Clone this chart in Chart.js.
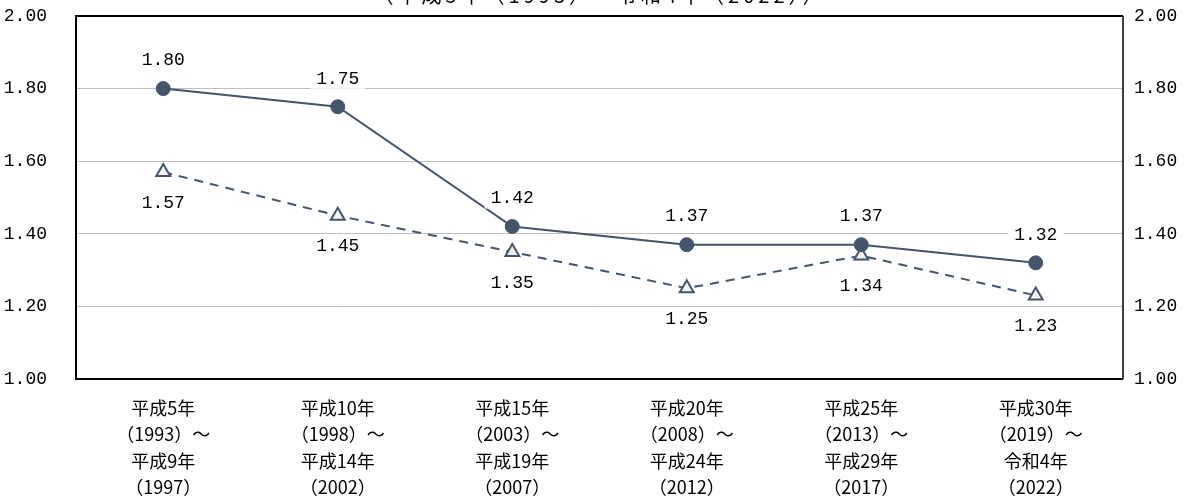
<!DOCTYPE html>
<html>
<head>
<meta charset="utf-8">
<style>
  html, body { margin: 0; padding: 0; background: #fff; }
  #wrap { width: 1188px; height: 500px; position: relative; overflow: hidden; }
</style>
<script src="https://cdn.jsdelivr.net/npm/chart.js@4"></script>
</head>
<body>
<div id="wrap"><canvas id="rateChart" width="1188" height="500"></canvas></div>
<script>
const titleText = "（平成5年（1993）～令和4年（2022））";
const periods = [
  ["平成5年", "（1993）～", "平成9年", "（1997）"],
  ["平成10年", "（1998）～", "平成14年", "（2002）"],
  ["平成15年", "（2003）～", "平成19年", "（2007）"],
  ["平成20年", "（2008）～", "平成24年", "（2012）"],
  ["平成25年", "（2013）～", "平成29年", "（2017）"],
  ["平成30年", "（2019）～", "令和4年", "（2022）"],
];
const seriesA = [1.80, 1.75, 1.42, 1.37, 1.37, 1.32];
const seriesB = [1.57, 1.45, 1.35, 1.25, 1.34, 1.23];
const yTicks = [1.0, 1.2, 1.4, 1.6, 1.8, 2.0];

const ink = "#44546A";
const numFont = '18px "Liberation Mono", monospace';

// value labels with white box, above or below the point
const valueLabels = {
  id: "valueLabels",
  afterDatasetsDraw(chart) {
    const ctx = chart.ctx;
    ctx.save();
    ctx.font = numFont;
    ctx.textAlign = "center";
    ctx.textBaseline = "middle";
    chart.data.datasets.forEach((ds, i) => {
      const meta = chart.getDatasetMeta(i);
      meta.data.forEach((pt, j) => {
        const txt = ds.data[j].toFixed(2);
        const y = pt.y + ds.labelOffset;
        const w = ctx.measureText(txt).width + 12;
        ctx.fillStyle = "#fff";
        ctx.fillRect(pt.x - w / 2, y - 11, w, 22);
        ctx.fillStyle = "#000";
        ctx.fillText(txt, pt.x, y + 1);
      });
    });
    ctx.restore();
  },
};

// plot frame and the cut-off title at the very top
const frame = {
  id: "frame",
  afterDraw(chart) {
    const { ctx, chartArea: a } = chart;
    ctx.save();
    ctx.lineWidth = 2;
    ctx.strokeStyle = "#000";
    ctx.beginPath();
    ctx.moveTo(a.right, a.top);
    ctx.lineTo(a.left, a.top);
    ctx.lineTo(a.left, a.bottom);
    ctx.lineTo(a.right, a.bottom);
    ctx.stroke();
    ctx.strokeStyle = "#404040";
    ctx.beginPath();
    ctx.moveTo(a.right, a.top);
    ctx.lineTo(a.right, a.bottom);
    ctx.stroke();

    ctx.font = '20px "Noto Sans CJK JP", sans-serif';
    ctx.letterSpacing = "4px";
    ctx.fillStyle = "#000";
    ctx.textAlign = "center";
    ctx.textBaseline = "alphabetic";
    ctx.fillText(titleText, 600, 3);
    ctx.restore();
  },
};

const yTickFont = { family: '"Liberation Mono", monospace', size: 18 };

new Chart(document.getElementById("rateChart"), {
  type: "line",
  data: {
    labels: periods,
    datasets: [
      {
        data: seriesA,
        borderColor: ink,
        backgroundColor: ink,
        borderWidth: 2,
        pointStyle: "circle",
        pointRadius: 7,
        pointBorderWidth: 1,
        labelOffset: -29,
        yAxisID: "y",
      },
      {
        data: seriesB,
        borderColor: ink,
        backgroundColor: "#F2F2F2",
        borderWidth: 2,
        borderDash: [9, 7],
        pointStyle: "triangle",
        pointRadius: 8,
        pointBorderWidth: 2,
        labelOffset: 30,
        yAxisID: "y",
      },
    ],
  },
  options: {
    responsive: false,
    animation: false,
    layout: { padding: { top: 16, left: 0, right: 0, bottom: 0 } },
    plugins: {
      legend: { display: false },
      tooltip: { enabled: false },
    },
    scales: {
      x: {
        offset: true,
        grid: { display: false, drawTicks: false },
        border: { display: false },
        ticks: {
          color: "#000",
          padding: 16,
          maxRotation: 0,
          autoSkip: false,
          font: { family: '"Noto Sans CJK JP", sans-serif', size: 18, lineHeight: 1.46 },
        },
        afterFit(scale) { scale.height = 121; scale.paddingLeft = 0; scale.paddingRight = 0; },
      },
      y: {
        position: "left",
        min: yTicks[0],
        max: yTicks[yTicks.length - 1],
        afterBuildTicks(scale) { scale.ticks = yTicks.map((v) => ({ value: v })); },
        grid: { color: "#BFBFBF", lineWidth: 1, drawTicks: false },
        border: { display: false },
        ticks: {
          color: "#000",
          padding: 29,
          font: yTickFont,
          callback: (v) => Number(v).toFixed(2),
        },
        afterFit(scale) { scale.width = 76; scale.paddingTop = 0; scale.paddingBottom = 0; },
      },
      y2: {
        position: "right",
        min: yTicks[0],
        max: yTicks[yTicks.length - 1],
        afterBuildTicks(scale) { scale.ticks = yTicks.map((v) => ({ value: v })); },
        grid: { display: false, drawTicks: false },
        border: { display: false },
        ticks: {
          color: "#000",
          padding: 11,
          font: yTickFont,
          callback: (v) => Number(v).toFixed(2),
        },
        afterFit(scale) { scale.width = 65; scale.paddingTop = 0; scale.paddingBottom = 0; },
      },
    },
  },
  plugins: [valueLabels, frame],
});
</script>
</body>
</html>
